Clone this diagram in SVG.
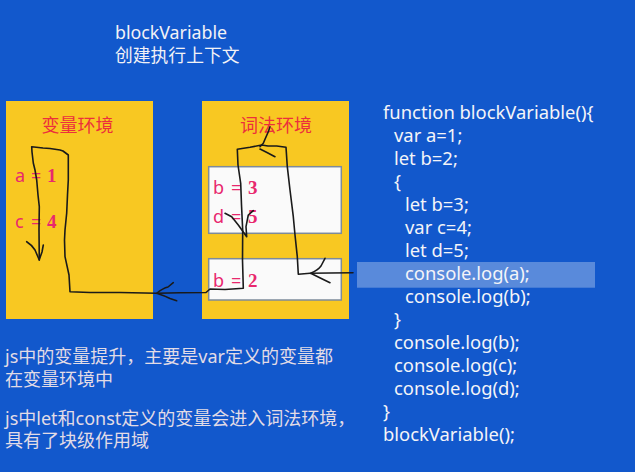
<svg xmlns="http://www.w3.org/2000/svg" width="635" height="472" viewBox="0 0 635 472">
<style>
.bg{fill:#1258CC}
.env{fill:#F8C822}
.inner{fill:#FAFAFA;stroke:#7D8B9B;stroke-width:1.5}
.title{font-family:"Noto Sans CJK SC","Noto Sans",sans-serif;font-size:18px;fill:#EC2F3C;text-anchor:middle}
.var{font-family:"Noto Sans","Noto Sans CJK SC",sans-serif;font-size:18px;fill:#E8286E}
.num{font-family:"Liberation Serif",serif;font-weight:bold;font-size:19px}
.head{font-family:"Noto Sans","Noto Sans CJK SC",sans-serif;font-size:17.8px;fill:#F2F2F6}
.code{font-family:"Noto Sans","Noto Sans CJK SC",sans-serif;font-size:18.4px;fill:#F4F4F8}
.note{font-family:"Noto Sans","Noto Sans CJK SC",sans-serif;font-size:18px;fill:#E2DCE6}
.ink{fill:none;stroke:#1A1A1A;stroke-width:1.6;stroke-linecap:round;stroke-linejoin:round}
</style>
<rect class="bg" x="0" y="0" width="635" height="472"/>
<g id="header">
<text class="head" x="115" y="39">blockVariable</text>
<text class="head" x="115" y="62">创建执行上下文</text>
</g>
<g id="var-env">
<rect class="env" x="6" y="101" width="147" height="218"/>
<text class="title" x="77.5" y="132">变量环境</text>
<text class="var" y="182"><tspan x="15">a</tspan><tspan x="31">=</tspan><tspan class="num" x="47">1</tspan></text>
<text class="var" y="228"><tspan x="15">c</tspan><tspan x="31">=</tspan><tspan class="num" x="47">4</tspan></text>
</g>
<g id="lex-env">
<rect class="env" x="202" y="101" width="147" height="218"/>
<text class="title" x="276" y="132">词法环境</text>
</g>
<g id="block-scope">
<rect class="inner" x="208.7" y="166.7" width="132.6" height="66.6"/>
<text class="var" y="194"><tspan x="213">b</tspan><tspan x="231">=</tspan><tspan class="num" x="248">3</tspan></text>
<text class="var" y="222.5"><tspan x="213">d</tspan><tspan x="231">=</tspan><tspan class="num" x="248">5</tspan></text>
</g>
<g id="function-scope">
<rect class="inner" x="208.7" y="258.7" width="132.6" height="41.3"/>
<text class="var" y="286.5"><tspan x="213">b</tspan><tspan x="231">=</tspan><tspan class="num" x="248">2</tspan></text>
</g>
<g id="connectors">
<path class="ink" d="M353,272.7 L330,273 L310,273.3 L298.3,274.3 L297.3,256.7 L295,235 L293.3,216.7 L290,190 L287.3,166.7 L286,147.3 L276.7,146 L268,146 L261.7,145 L250,147.3 L237.3,149.3 L238,165 L240.7,183.3 L241.5,205 L242.7,230 L242.5,260 L243.3,288.3 L225,289.5 L210,289 L206,292.5 L180,292.8 L156.7,293.3 L120,292.5 L90,292.5 L70,291.7 L69,275 L65,256.7 L64.5,240 L65,230 L66.7,213 L67.5,195 L68.3,180 L68.3,155 L63,151 L60,150 L50,148.5 L43,148 L31.7,146.7 L32,152 L33.3,163 L35,170 L36.7,180 L38,195 L39.3,206.7 L39,230 L39.3,260"/>
<path class="ink" d="M26.7,241.7 Q32,245 35,250 L39.3,260 M43.3,245 L42,252 L39.5,259"/>
<path class="ink" d="M156.7,293.3 Q163,288 168,287 L173.3,282.7 M156.7,293.3 Q165,296 170,298.5 L176.7,300.7"/>
<path class="ink" d="M310.7,273.3 Q318,270 321,266 L325,258.3 M310.7,273.3 Q320,278 330,282.7"/>
<path class="ink" d="M260,146.7 L263.3,143.3 L265,139.3 L268.3,131.7 L270,126.7 M260,149 L266,152 L275,156.7"/>
<path class="ink" d="M225,213.3 L231.7,216.7 L238.3,225 L246.7,236.7 L246,226.7 L248.3,215 L253.3,210.7"/>
</g>
<g id="code">
<rect x="357" y="262" width="238" height="25.7" fill="#FFFFFF" fill-opacity="0.3"/>
<text class="code" x="383" y="119">function blockVariable(){</text>
<text class="code" x="394" y="142">var a=1;</text>
<text class="code" x="394" y="165">let b=2;</text>
<text class="code" x="394" y="188">{</text>
<text class="code" x="405" y="211">let b=3;</text>
<text class="code" x="405" y="234">var c=4;</text>
<text class="code" x="405" y="257">let d=5;</text>
<text class="code" x="405" y="280">console.log(a);</text>
<text class="code" x="405" y="303">console.log(b);</text>
<text class="code" x="394" y="326">}</text>
<text class="code" x="394" y="349">console.log(b);</text>
<text class="code" x="394" y="372">console.log(c);</text>
<text class="code" x="394" y="395">console.log(d);</text>
<text class="code" x="383" y="418">}</text>
<text class="code" x="383" y="441">blockVariable();</text>
</g>
<g id="notes">
<text class="note" x="5" y="363">js中的变量提升，主要是var定义的变量都</text>
<text class="note" x="5" y="386">在变量环境中</text>
<text class="note" x="5" y="425">js中let和const定义的变量会进入词法环境，</text>
<text class="note" x="5" y="447">具有了块级作用域</text>
</g>
</svg>
